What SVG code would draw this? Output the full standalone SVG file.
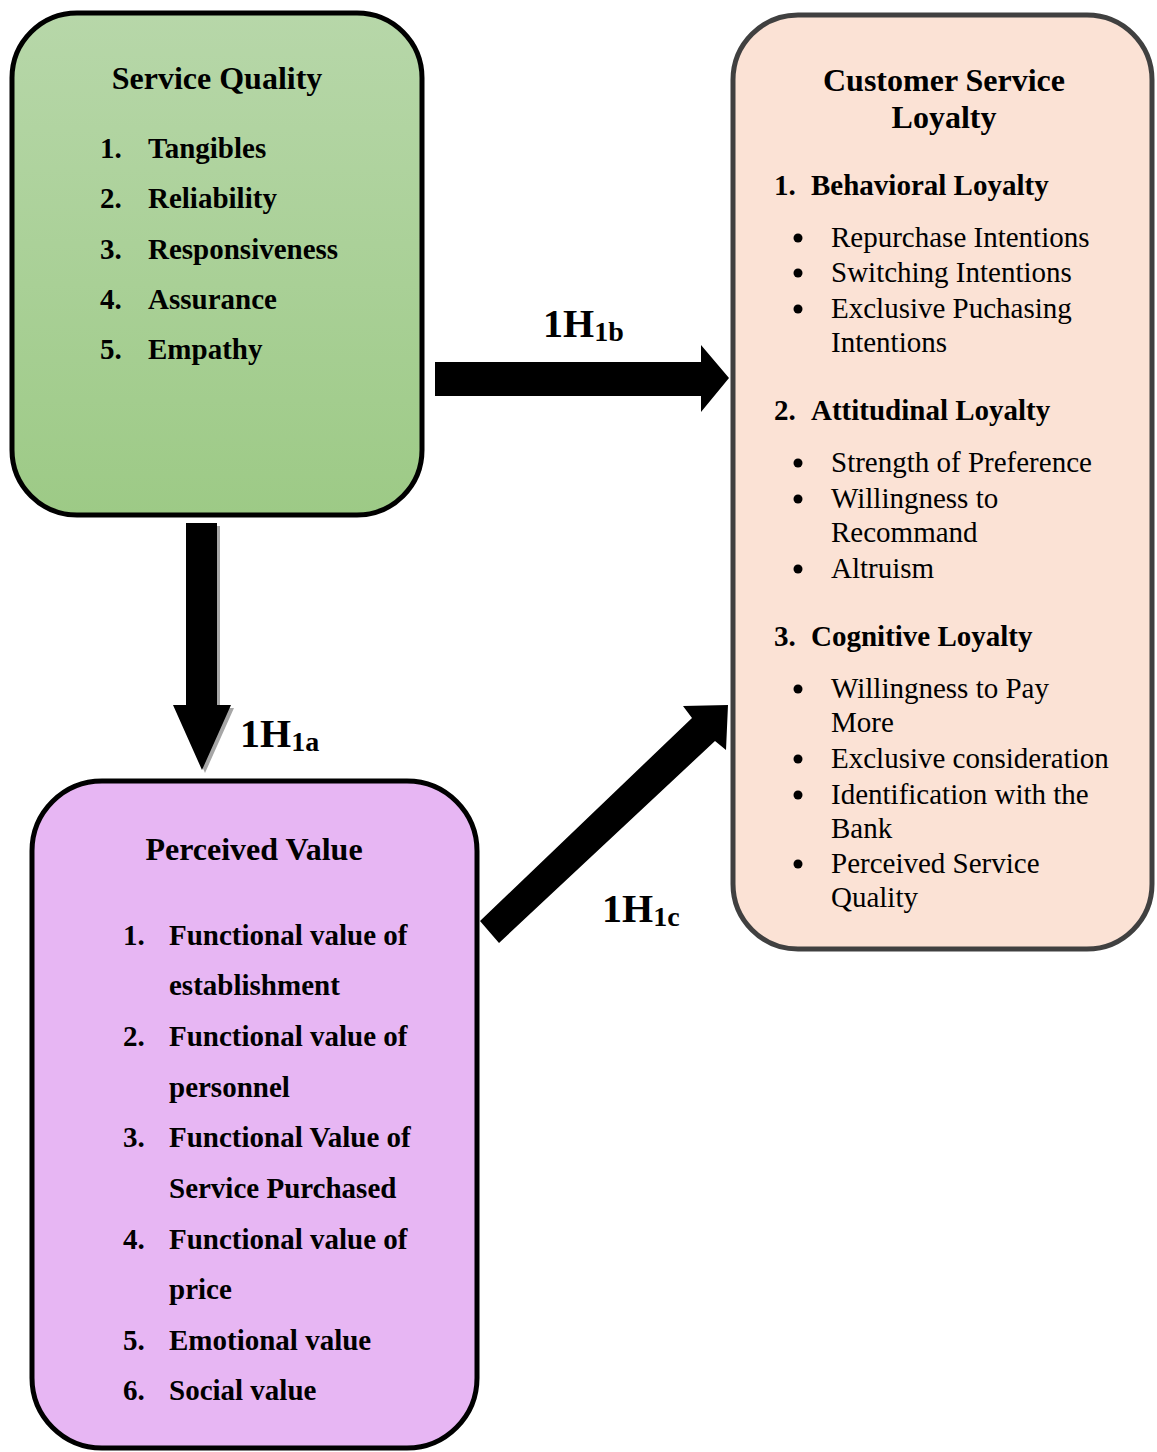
<svg xmlns="http://www.w3.org/2000/svg" width="1157" height="1452" viewBox="0 0 1157 1452">
<defs>
<linearGradient id="gGreen" x1="0" y1="0" x2="0" y2="1">
<stop offset="0" stop-color="#b7d7a9"/>
<stop offset="1" stop-color="#9dca86"/>
</linearGradient>
<style>
text{font-family:"Liberation Serif","Times New Roman",serif;fill:#000}
.title{font-size:32px;font-weight:bold}
.b{font-size:29px;font-weight:bold}
.r{font-size:29px}
.lbl{font-size:40px;font-weight:bold}
.sub{font-size:28px}
.arrow{fill:#000}
</style>
</defs>
<rect width="1157" height="1452" fill="#fff"/>

<g id="connectors">
<g id="arrow-1H1a">
<polygon points="189,526 220,526 220,708 234,708 205,773 176,708 189,708" fill="#a6a6a6"/>
<polygon class="arrow" points="186,523 217,523 217,705 231,705 202,770 173,705 186,705"/>
</g>
<polygon id="arrow-1H1b" class="arrow" points="435,362 701,362 701,345 729,378 701,412 701,396 435,396"/>
<polygon id="arrow-1H1c" class="arrow" points="480,921 692,718 683,706 728,705 726,750 715,741 499,943"/>
<text class="lbl" x="543" y="337">1H<tspan class="sub" dy="4">1b</tspan></text>
<text class="lbl" x="240" y="747">1H<tspan class="sub" dy="4">1a</tspan></text>
<text class="lbl" x="602" y="922">1H<tspan class="sub" dy="4">1c</tspan></text>
</g>

<g id="service-quality">
<rect x="12" y="13" width="410" height="502" rx="65" ry="65" fill="url(#gGreen)" stroke="#000" stroke-width="5"/>
<text class="title" x="217" y="89" text-anchor="middle">Service Quality</text>
<text class="b" x="100" y="158">1.</text><text class="b" x="148" y="158">Tangibles</text>
<text class="b" x="100" y="208">2.</text><text class="b" x="148" y="208">Reliability</text>
<text class="b" x="100" y="259">3.</text><text class="b" x="148" y="259">Responsiveness</text>
<text class="b" x="100" y="309">4.</text><text class="b" x="148" y="309">Assurance</text>
<text class="b" x="100" y="359">5.</text><text class="b" x="148" y="359">Empathy</text>
</g>

<g id="customer-service-loyalty">
<rect x="733" y="15" width="419" height="934" rx="65" ry="65" fill="#fbe2d5" stroke="#404040" stroke-width="5"/>
<text class="title" x="944" y="91" text-anchor="middle">Customer Service</text>
<text class="title" x="944" y="128" text-anchor="middle">Loyalty</text>
<text class="b" x="774" y="195">1.</text><text class="b" x="811" y="195">Behavioral Loyalty</text>
<g fill="#000">
<circle cx="798" cy="238" r="4.5"/><circle cx="798" cy="273" r="4.5"/><circle cx="798" cy="309" r="4.5"/>
<circle cx="798" cy="463" r="4.5"/><circle cx="798" cy="499" r="4.5"/><circle cx="798" cy="569" r="4.5"/>
<circle cx="798" cy="689" r="4.5"/><circle cx="798" cy="759" r="4.5"/><circle cx="798" cy="795" r="4.5"/><circle cx="798" cy="864" r="4.5"/>
</g>
<text class="r" x="831" y="247">Repurchase Intentions</text>
<text class="r" x="831" y="282">Switching Intentions</text>
<text class="r" x="831" y="318">Exclusive Puchasing</text>
<text class="r" x="831" y="352">Intentions</text>
<text class="b" x="774" y="420">2.</text><text class="b" x="811" y="420">Attitudinal Loyalty</text>
<text class="r" x="831" y="472">Strength of Preference</text>
<text class="r" x="831" y="508">Willingness to</text>
<text class="r" x="831" y="542">Recommand</text>
<text class="r" x="831" y="578">Altruism</text>
<text class="b" x="774" y="646">3.</text><text class="b" x="811" y="646">Cognitive Loyalty</text>
<text class="r" x="831" y="698">Willingness to Pay</text>
<text class="r" x="831" y="732">More</text>
<text class="r" x="831" y="768">Exclusive consideration</text>
<text class="r" x="831" y="804">Identification with the</text>
<text class="r" x="831" y="838">Bank</text>
<text class="r" x="831" y="873">Perceived Service</text>
<text class="r" x="831" y="907">Quality</text>
</g>

<g id="perceived-value">
<rect x="32" y="781" width="445" height="667" rx="70" ry="70" fill="#e7b6f3" stroke="#000" stroke-width="5"/>
<text class="title" x="254" y="860" text-anchor="middle">Perceived Value</text>
<text class="b" x="123" y="945">1.</text><text class="b" x="169" y="945">Functional value of</text>
<text class="b" x="169" y="995">establishment</text>
<text class="b" x="123" y="1046">2.</text><text class="b" x="169" y="1046">Functional value of</text>
<text class="b" x="169" y="1097">personnel</text>
<text class="b" x="123" y="1147">3.</text><text class="b" x="169" y="1147">Functional Value of</text>
<text class="b" x="169" y="1198">Service Purchased</text>
<text class="b" x="123" y="1249">4.</text><text class="b" x="169" y="1249">Functional value of</text>
<text class="b" x="169" y="1299">price</text>
<text class="b" x="123" y="1350">5.</text><text class="b" x="169" y="1350">Emotional value</text>
<text class="b" x="123" y="1400">6.</text><text class="b" x="169" y="1400">Social value</text>
</g>
</svg>
